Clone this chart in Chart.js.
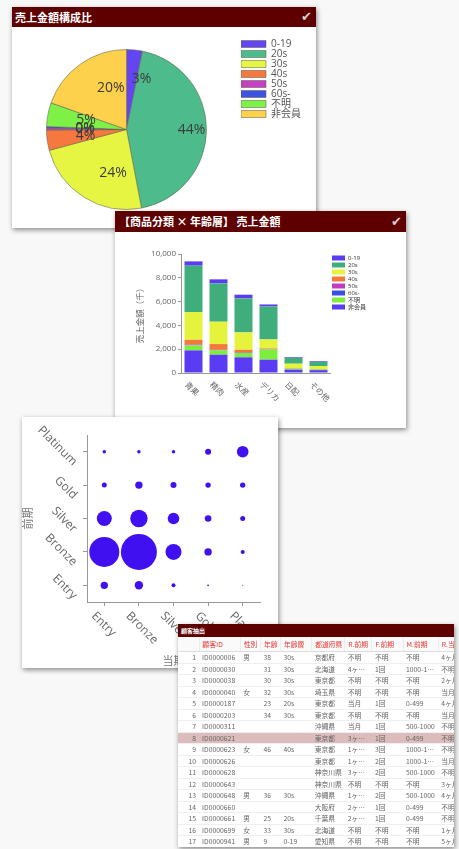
<!DOCTYPE html>
<html lang="ja">
<head>
<meta charset="utf-8">
<title>売上分析</title>
<script src="https://cdn.jsdelivr.net/npm/chart.js@4.4.1/dist/chart.umd.min.js"></script>
<style>
    html, body { margin: 0; padding: 0; }
    body {
        width: 459px; height: 849px; position: relative; overflow: hidden;
        background: #f8f8f8;
        font-family: "Noto Sans CJK JP", "Noto Sans", sans-serif;
    }
    .panel { position: absolute; background: #fff; box-shadow: 1px 2px 5px rgba(0,0,0,0.45); overflow: hidden; }
    .head { position: relative; background: #5e0000; color: #fff; font-weight: bold; white-space: nowrap; }
    .head .chk { position: absolute; right: 4px; top: 0; color: #cfcfcf; font-family: "DejaVu Sans"; font-weight: normal; }
    canvas { display: block; }

    #p1 { left: 12px; top: 7px; width: 304px; height: 221px; }
    #p1 .head { height: 20px; line-height: 20px; font-size: 11px; padding-left: 3px; }
    #p1 .chk { font-size: 13px; }
    #p2 { left: 115px; top: 211px; width: 291px; height: 217px; }
    #p2 .head { height: 21px; line-height: 21px; font-size: 11px; padding-left: 4px; }
    #p2 .chk { font-size: 13px; }
    #p3 { left: 22px; top: 417px; width: 256px; height: 251px; }
    #p4 { left: 178px; top: 624px; width: 276px; height: 223px; }
    #p4 .head { height: 13px; line-height: 13px; font-size: 6px; padding-left: 3px; }

    #customerTable { border-collapse: collapse; table-layout: fixed; width: 301px; font-size: 6.8px; color: #666; }
    #customerTable th {
        height: 14px; padding: 0 0 0 3px; text-align: left; font-weight: normal; color: #e53935;
        background: #fafafa; border-right: 1px solid #ececec; border-bottom: 1px solid #dcdcdc;
        white-space: nowrap; overflow: hidden;
    }
    #customerTable tr.row { height: 11.5px; }
    #customerTable td {
        padding: 0 1px 0 3px; line-height: 10px; white-space: nowrap; overflow: hidden; text-overflow: ellipsis;
        border-bottom: 1px solid #efefef;
    }
    #customerTable td.num { text-align: right; padding-right: 3px; }
    #customerTable tr.sel td { background: #dcbcbc; }
</style>
</head>
<body>

<div class="panel" id="p1">
    <div class="head">売上金額構成比<span class="chk">✔</span></div>
    <canvas id="pieChart" width="304" height="201"></canvas>
</div>

<div class="panel" id="p2">
    <div class="head">【商品分類 × 年齢層】 売上金額<span class="chk">✔</span></div>
    <canvas id="barChart" width="291" height="196"></canvas>
</div>

<div class="panel" id="p3">
    <canvas id="bubbleChart" width="256" height="251"></canvas>
</div>

<div class="panel" id="p4">
    <div class="head">顧客抽出</div>
    <table id="customerTable"></table>
</div>

<script>
// 年齢層
const ageGroups = ['0-19', '20s', '30s', '40s', '50s', '60s-', '不明', '非会員'];
// 売上金額構成比 (%)
const shareValues = [3.2, 43.8, 23.8, 4.1, 0.4, 0.3, 4.8, 19.6];

// 商品分類 × 年齢層 売上金額 (千)
const productCategories = ['青果', '精肉', '水産', 'デリカ', '日配', 'その他'];
const sales0to19 = [360, 340, 310, 170, 60, 60];
const sales20s = [3900, 3220, 2860, 2770, 500, 350];
const sales30s = [2330, 1880, 1460, 760, 380, 250];
const sales40s = [400, 480, 220, 60, 20, 20];
const sales50s = [40, 30, 30, 20, 10, 10];
const sales60s = [30, 20, 20, 10, 10, 10];
const salesUnknown = [420, 360, 360, 850, 80, 60];
const salesNonMember = [1900, 1540, 1320, 1120, 280, 240];
const salesTicks = [0, 2000, 4000, 6000, 8000, 10000];

// 前期ランク × 当期ランク 顧客数
const rankLabels = ['Entry', 'Bronze', 'Silver', 'Gold', 'Platinum'];
const prevEntry = [54, 70, 16, 3, 1];
const prevBronze = [900, 1296, 256, 54, 16];
const prevSilver = [225, 303, 135, 44, 25];
const prevGold = [25, 55, 36, 29, 29];
const prevPlatinum = [12, 12, 12, 36, 135];

// 顧客抽出テーブル
const tableHeaders = ['', '顧客ID', '性別', '年齢', '年齢層', '都道府県', 'R.前期', 'F.前期', 'M.前期', 'R.当期'];
const custIds = ['ID0000006', 'ID0000030', 'ID0000038', 'ID0000040', 'ID0000187', 'ID0000203', 'ID0000311', 'ID0000621', 'ID0000623', 'ID0000626', 'ID0000628', 'ID0000643', 'ID0000648', 'ID0000660', 'ID0000661', 'ID0000699', 'ID0000941', 'ID0001015'];
const custGender = ['男', '', '', '女', '', '', '', '', '女', '', '', '', '男', '', '男', '女', '男', '男'];
const custAge = ['38', '31', '30', '32', '23', '34', '', '', '46', '', '', '', '36', '', '25', '33', '9', '37'];
const custAgeGroup = ['30s', '30s', '30s', '30s', '20s', '30s', '', '', '40s', '', '', '', '30s', '', '20s', '30s', '0-19', '30s'];
const custPref = ['京都府', '北海道', '東京都', '埼玉県', '東京都', '東京都', '沖縄県', '東京都', '東京都', '東京都', '神奈川県', '神奈川県', '沖縄県', '大阪府', '千葉県', '北海道', '愛知県', '北海道'];
const custRPrev = ['不明', '4ヶ月以上前', '不明', '不明', '当月', '不明', '当月', '3ヶ月前', '1ヶ月前', '1ヶ月前', '3ヶ月前', '不明', '1ヶ月前', '2ヶ月前', '2ヶ月前', '不明', '不明', '1ヶ月前'];
const custFPrev = ['不明', '1回', '不明', '不明', '1回', '不明', '1回', '1回', '3回', '2回', '2回', '不明', '2回', '1回', '1回', '不明', '不明', '1回'];
const custMPrev = ['不明', '1000-1999', '不明', '不明', '0-499', '不明', '500-1000', '0-499', '1000-1999', '1000-1999', '500-1000', '不明', '500-1000', '0-499', '0-499', '不明', '不明', '0-499'];
const custRCur = ['4ヶ月以上前', '不明', '2ヶ月前', '当月', '4ヶ月以上前', '当月', '不明', '不明', '不明', '当月', '不明', '3ヶ月前', '4ヶ月以上前', '不明', '不明', '1ヶ月前', '5ヶ月前', '4ヶ月以上前'];
const selectedRow = 7;

Chart.defaults.font.family = "'Open Sans', 'Noto Sans CJK JP', sans-serif";
Chart.defaults.animation = false;

// 円グラフのラベル (%)
const pieLabels = {
    id: 'pieLabels',
    afterDatasetsDraw(chart) {
        const ctx = chart.ctx;
        const values = chart.data.datasets[0].data;
        const total = values.reduce((a, b) => a + b, 0);
        ctx.save();
        ctx.font = "14px 'Open Sans'";
        ctx.fillStyle = '#3b3b3b';
        ctx.textAlign = 'left';
        ctx.textBaseline = 'middle';
        chart.getDatasetMeta(0).data.forEach(function(arc, i) {
            const mid = (arc.startAngle + arc.endAngle) / 2;
            const d = arc.outerRadius * 0.64;
            ctx.fillText(Math.round(values[i] / total * 100) + '%', arc.x + Math.cos(mid) * d, arc.y + Math.sin(mid) * d);
        });
        ctx.restore();
    }
};

// 斜めの目盛りラベル
const slantLabels = {
    id: 'slantLabels',
    afterDraw(chart, args, opts) {
        const ctx = chart.ctx;
        ['x', 'y'].forEach(function(id) {
            const o = opts[id];
            const scale = chart.scales[id];
            if (!o || !scale) return;
            ctx.save();
            ctx.font = o.font;
            ctx.fillStyle = o.color;
            ctx.textBaseline = 'middle';
            ctx.textAlign = id === 'x' ? 'left' : 'right';
            scale.ticks.forEach(function(tick, i) {
                const p = scale.getPixelForTick(i);
                ctx.save();
                if (id === 'x') {
                    ctx.translate(p + o.dx, scale.top + o.dy);
                } else {
                    ctx.translate(scale.right + o.dx, p + o.dy);
                }
                ctx.rotate(Math.PI / 4);
                ctx.fillText(scale.getLabelForValue(tick.value), 0, 0);
                ctx.restore();
            });
            ctx.restore();
        });
    }
};

function initPieChart() {
    new Chart(document.getElementById('pieChart'), {
        type: 'pie',
        data: {
            labels: ageGroups,
            datasets: [{
                data: shareValues,
                backgroundColor: ['#6346f2', '#4dbb8c', '#e6f542', '#f5783f', '#c441c4', '#3f52e2', '#7ff046', '#fed14c'],
                borderColor: 'rgba(100, 100, 80, 0.55)',
                borderWidth: 1
            }]
        },
        options: {
            responsive: false,
            radius: 80,
            layout: { padding: { left: 0, right: 5, top: 12, bottom: 8 } },
            plugins: {
                legend: {
                    position: 'right',
                    align: 'start',
                    labels: {
                        boxWidth: 25,
                        boxHeight: 7,
                        padding: 0,
                        color: '#555',
                        font: { size: 10 }
                    }
                },
                tooltip: { enabled: false }
            }
        },
        plugins: [pieLabels]
    });
}

function initBarChart() {
    const barColors = ['#5b3cf5', '#3fae7c', '#e5f33d', '#f2793a', '#c03cc0', '#3a4ee6', '#7cef3c', '#5b3cf5'];
    const series = [sales0to19, sales20s, sales30s, sales40s, sales50s, sales60s, salesUnknown, salesNonMember];
    // 非会員を一番下に積む
    const datasets = series.map(function(values, i) {
        return { label: ageGroups[i], data: values, backgroundColor: barColors[i] };
    }).reverse();

    new Chart(document.getElementById('barChart'), {
        type: 'bar',
        data: { labels: productCategories, datasets: datasets },
        options: {
            responsive: false,
            layout: { padding: { left: 0, right: 30, top: 22, bottom: 0 } },
            plugins: {
                legend: {
                    position: 'right',
                    align: 'start',
                    reverse: true,
                    labels: { boxWidth: 13, boxHeight: 5, padding: 1, color: '#333', font: { size: 6 } }
                },
                tooltip: { enabled: false },
                slantLabels: { x: { font: "8px 'Noto Sans CJK JP'", color: '#666', dx: -7, dy: 10 } }
            },
            scales: {
                x: {
                    stacked: true,
                    grid: { display: false },
                    border: { color: '#999' },
                    ticks: { display: false },
                    afterFit: function(scale) { scale.height = 55; }
                },
                y: {
                    stacked: true,
                    min: salesTicks[0],
                    max: salesTicks[salesTicks.length - 1],
                    afterBuildTicks: function(scale) {
                        scale.ticks = salesTicks.map(v => ({ value: v }));
                    },
                    grid: { drawOnChartArea: false, tickLength: 3, color: '#999' },
                    border: { color: '#999' },
                    ticks: {
                        padding: 2,
                        color: '#666',
                        font: { size: 8 },
                        callback: function(value) { return value.toLocaleString('en-US'); }
                    },
                    title: {
                        display: true,
                        text: '売上金額（千）',
                        color: '#666',
                        font: { size: 8.5 },
                        padding: { top: 20, bottom: 0 }
                    },
                    afterFit: function(scale) { scale.width = 66; }
                }
            }
        },
        plugins: [slantLabels]
    });
}

function initBubbleChart() {
    const rows = [prevEntry, prevBronze, prevSilver, prevGold, prevPlatinum];
    const points = [];
    rows.forEach(function(counts, i) {
        counts.forEach(function(v, j) {
            points.push({ x: rankLabels[j], y: rankLabels[i], v: v });
        });
    });

    new Chart(document.getElementById('bubbleChart'), {
        type: 'bubble',
        data: {
            datasets: [{
                data: points,
                backgroundColor: '#4010f0',
                borderWidth: 0,
                radius: function(c) { return c.raw ? Math.sqrt(c.raw.v) * 0.5 : 0; }
            }]
        },
        options: {
            responsive: false,
            layout: { padding: { left: 0, right: 11, top: 5, bottom: 0 } },
            plugins: {
                legend: { display: false },
                tooltip: { enabled: false },
                slantLabels: {
                    x: { font: "12px 'Open Sans'", color: '#666', dx: -11, dy: 12 },
                    y: { font: "12px 'Open Sans'", color: '#666', dx: -12, dy: 12 }
                }
            },
            scales: {
                x: {
                    type: 'category',
                    labels: rankLabels,
                    offset: true,
                    grid: { drawOnChartArea: false, tickLength: 4, color: '#999' },
                    border: { color: '#999' },
                    ticks: { display: false },
                    title: { display: true, text: '当期', color: '#777', font: { size: 11 }, padding: 0 },
                    afterFit: function(scale) { scale.height = 66; }
                },
                y: {
                    type: 'category',
                    labels: rankLabels.slice().reverse(),
                    offset: true,
                    grid: { drawOnChartArea: false, tickLength: 4, color: '#999' },
                    border: { color: '#999' },
                    ticks: { display: false },
                    title: { display: true, text: '前期', color: '#777', font: { size: 11 }, padding: 0 },
                    afterFit: function(scale) { scale.width = 65; }
                }
            }
        },
        plugins: [slantLabels]
    });
}

function buildTable() {
    const colWidths = [21, 41, 20, 20, 31, 33, 27, 31, 35, 40];
    const cols = [custIds, custGender, custAge, custAgeGroup, custPref, custRPrev, custFPrev, custMPrev, custRCur];
    let html = '<colgroup>' + colWidths.map(w => '<col style="width:' + w + 'px">').join('') + '</colgroup>';
    html += '<thead><tr>' + tableHeaders.map(h => '<th>' + h + '</th>').join('') + '</tr></thead><tbody>';
    custIds.forEach(function(id, r) {
        html += '<tr class="row' + (r === selectedRow ? ' sel' : '') + '"><td class="num">' + (r + 1) + '</td>';
        cols.forEach(function(col) { html += '<td>' + col[r] + '</td>'; });
        html += '</tr>';
    });
    html += '</tbody>';
    document.getElementById('customerTable').innerHTML = html;
}

buildTable();
initPieChart();
initBarChart();
initBubbleChart();
</script>
</body>
</html>
